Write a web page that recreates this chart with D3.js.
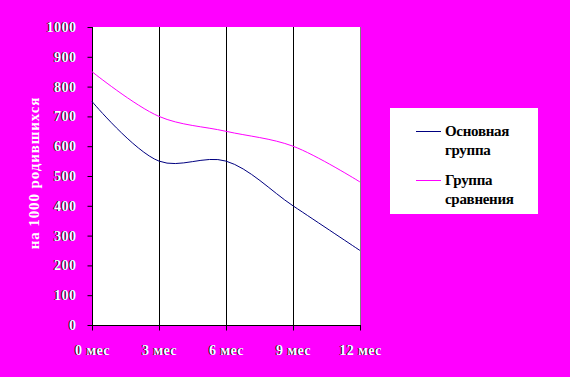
<!DOCTYPE html>
<html><head><meta charset="utf-8">
<script src="https://cdn.jsdelivr.net/npm/d3@7"></script>
<style>html,body{margin:0;padding:0;background:#FF00FF;}</style>
</head><body>
<svg id="c" width="570" height="377"></svg>
<script>
const categories = ["0 мес","3 мес","6 мес","9 мес","12 мес"];
const seriesNames = ["Основная группа","Группа сравнения"];
const mainGroup = [750, 550, 550, 400, 250];
const compGroup = [850, 700, 650, 600, 480];
const yTicks = [0,100,200,300,400,500,600,700,800,900,1000];
const yTitle = "на 1000 родившихся";

const svg = d3.select("#c");
svg.append("rect").attr("width",570).attr("height",377).attr("fill","#FF00FF");
const L=92, R=360, T=27, B=325;
const x = d3.scalePoint().domain(categories).range([L,R]);
const y = d3.scaleLinear().domain([0,1000]).range([B,T]);
svg.append("rect").attr("x",L).attr("y",T).attr("width",R-L).attr("height",B-T).attr("fill","#fff");
svg.append("line").attr("x1",R+0.5).attr("x2",R+0.5).attr("y1",T).attr("y2",B).attr("stroke","#808080");
categories.slice(1,-1).forEach(c=>{
  svg.append("line").attr("x1",x(c)+0.5).attr("x2",x(c)+0.5).attr("y1",T).attr("y2",B).attr("stroke","#000");
});
const font = "'Liberation Serif','Times New Roman',serif";
const tfs = 14;
// y axis
const ya = svg.append("g").attr("transform",`translate(${L+0.5},0)`)
  .call(d3.axisLeft(y).tickValues(yTicks).tickSize(5).tickPadding(11).tickFormat(d3.format("d")));
ya.select(".domain").attr("stroke","#000").attr("d",`M0,${T}V${B+4}`);
ya.selectAll(".tick line").attr("stroke","#000");
ya.selectAll(".tick text").each(function(){
  const t=d3.select(this);
  d3.select(this.parentNode).insert("text","text").attr("x",t.attr("x")-1).attr("dy",t.attr("dy")).text(t.text())
    .attr("fill","#000").attr("font-family",font).attr("font-weight","bold").attr("font-size",tfs).attr("letter-spacing",0.5).attr("text-anchor","end");
  t.attr("fill","#fff").attr("font-family",font).attr("font-weight","bold").attr("font-size",tfs).attr("letter-spacing",0.5);
});
// x axis
const xa = svg.append("g").attr("transform",`translate(0,${B+0.5})`)
  .call(d3.axisBottom(x).tickSize(5).tickPadding(15));
xa.select(".domain").attr("stroke","#000").attr("d",`M${L-4},0H${R+1}`);
xa.selectAll(".tick line").attr("stroke","#000");
xa.selectAll(".tick text").each(function(){
  const t=d3.select(this);
  d3.select(this.parentNode).insert("text","text").attr("x",-1).attr("y",t.attr("y")).attr("dy",t.attr("dy")).text(t.text())
    .attr("fill","#000").attr("font-family",font).attr("font-weight","bold").attr("font-size",tfs).attr("letter-spacing",0.5).attr("text-anchor","middle");
  t.attr("fill","#fff").attr("font-family",font).attr("font-weight","bold").attr("font-size",tfs).attr("letter-spacing",0.5);
});
// lines
const line = d3.line().x((d,i)=>x(categories[i])).y(d=>y(d)).curve(d3.curveCatmullRom.alpha(0.5));
svg.append("path").datum(mainGroup).attr("d",line).attr("fill","none").attr("stroke","#000080").attr("stroke-width",1);
svg.append("path").datum(compGroup).attr("d",line).attr("fill","none").attr("stroke","#FF00FF").attr("stroke-width",1);
// y title
svg.append("text").attr("transform","translate(39,173) rotate(-90)").attr("text-anchor","middle")
  .attr("fill","#fff").attr("font-family",font).attr("font-weight","bold").attr("font-size",15).attr("letter-spacing",0.9).text(yTitle);
// legend
const lg = svg.append("g");
lg.append("rect").attr("x",390).attr("y",108).attr("width",148).attr("height",106).attr("fill","#fff");
const colors=["#000080","#FF00FF"];
const lines=[["Основная","группа"],["Группа","сравнения"]];
[131,180].forEach((yy,i)=>{
  lg.append("line").attr("x1",416).attr("x2",441).attr("y1",yy+0.5).attr("y2",yy+0.5).attr("stroke",colors[i]);
  lines[i].forEach((s,j)=>{
    lg.append("text").attr("x",445).attr("y",yy+5+j*19).attr("font-family",font).attr("font-weight","bold")
      .attr("font-size",15).attr("letter-spacing",-0.3).attr("fill","#000").text(s);
  });
});
</script>
</body></html>
